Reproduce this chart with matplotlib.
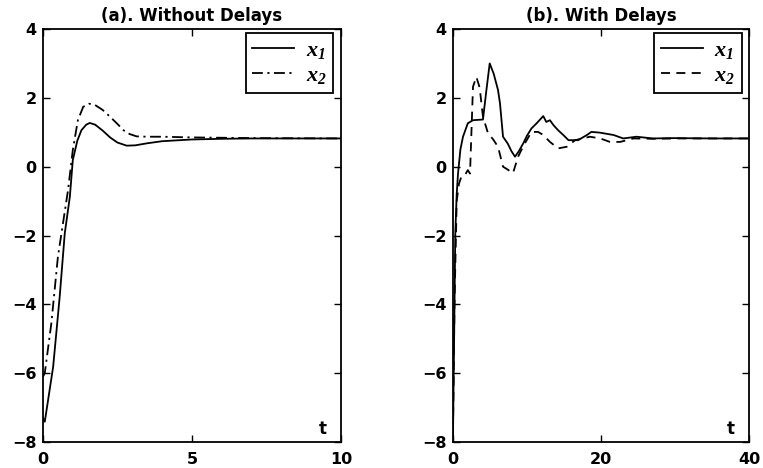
import matplotlib
matplotlib.use("Agg")
import matplotlib.pyplot as plt

# ---- (a) response without delays ----
t_a_x1 = [0.0, 0.06, 0.34, 0.56, 0.73, 0.9, 1.0, 1.15, 1.29, 1.45, 1.57, 1.75, 2.0, 2.25, 2.5,
          2.81, 3.1, 3.5, 4.0, 5.0, 6.0, 7.0, 8.0, 10.0]
x1_a = [-7.3, -7.41, -5.82, -3.78, -1.94, -0.88, 0.19, 0.75, 1.06, 1.22, 1.27, 1.22, 1.05, 0.85,
        0.7, 0.61, 0.62, 0.68, 0.74, 0.79, 0.81, 0.82, 0.82, 0.82]

t_a_x2 = [0.0, 0.06, 0.28, 0.5, 0.84, 1.0, 1.17, 1.35, 1.55, 1.75, 2.0, 2.25, 2.5, 2.7, 2.9,
          3.14, 3.5, 4.0, 5.0, 7.0, 10.0]
x2_a = [-6.1, -6.0, -4.55, -2.62, -0.68, 0.48, 1.35, 1.74, 1.83, 1.79, 1.65, 1.45, 1.24, 1.06,
        0.95, 0.88, 0.87, 0.87, 0.85, 0.83, 0.82]

# ---- (b) response with delays ----
t_b_x1 = [0.0, 0.15, 0.31, 0.5, 0.68, 1.0, 1.35, 2.0, 2.7, 4.05, 4.5, 4.96, 5.5, 6.08, 6.35,
          6.76, 7.4, 7.9, 8.38, 8.9, 9.5, 10.0, 10.6, 11.3, 12.2, 12.6, 13.1, 13.6, 14.2, 15.0,
          15.6, 16.9, 18.1, 18.7, 19.8, 21.7, 23.0, 24.8, 27.0, 30.0, 35.0, 40.0]
x1_b = [-7.8, -5.0, -1.94, -0.8, -0.2, 0.5, 0.87, 1.26, 1.35, 1.37, 2.2, 3.0, 2.7, 2.23, 1.84,
        0.87, 0.67, 0.45, 0.29, 0.45, 0.68, 0.9, 1.11, 1.26, 1.47, 1.3, 1.35, 1.2, 1.06, 0.9,
        0.77, 0.77, 0.92, 1.01, 0.99, 0.92, 0.82, 0.87, 0.82, 0.83, 0.82, 0.82]

t_b_x2 = [0.0, 0.2, 0.5, 0.8, 1.13, 1.6, 2.0, 2.3, 2.7, 3.15, 3.6, 4.05, 4.73, 5.4, 6.08, 6.76,
          7.5, 8.1, 8.8, 9.5, 10.1, 10.6, 11.5, 12.2, 13.1, 14.2, 15.4, 16.5, 18.5, 19.9, 21.2,
          22.6, 24.4, 27.0, 30.0, 35.0, 40.0]
x2_b = [-7.7, -4.0, -1.0, -0.5, -0.29, -0.25, -0.1, -0.2, 2.32, 2.61, 2.3, 1.45, 0.97, 0.8,
        0.58, 0.0, -0.1, -0.19, 0.29, 0.6, 0.82, 1.01, 1.01, 0.92, 0.72, 0.53, 0.58, 0.77, 0.87,
        0.82, 0.72, 0.72, 0.82, 0.81, 0.82, 0.82, 0.82]

titles = ["(a). Without Delays", "(b). With Delays"]
x_ticks = [[0, 5, 10], [0, 20, 40]]
y_ticks = [-8, -6, -4, -2, 0, 2, 4]
legend_labels = [r"$x_1$", r"$x_2$"]

plt.rcParams["font.family"] = ["DejaVu Sans"]
plt.rcParams["font.weight"] = "bold"
plt.rcParams["mathtext.fontset"] = "custom"
plt.rcParams["mathtext.it"] = "Liberation Serif:italic:bold"
plt.rcParams["mathtext.rm"] = "Liberation Serif:italic:bold"

fig = plt.figure(figsize=(7.63, 4.68), dpi=100)
ax_a = fig.add_axes([43 / 763, 1 - 442 / 468, 298 / 763, 413 / 468])
ax_b = fig.add_axes([453 / 763, 1 - 442 / 468, 296 / 763, 413 / 468])

lw = 1.3
ax_a.plot(t_a_x1, x1_a, color="black", lw=lw, label=legend_labels[0])
ax_a.plot(t_a_x2, x2_a, color="black", lw=lw, dashes=(6, 2.5, 1.2, 2.5), label=legend_labels[1])
ax_b.plot(t_b_x1, x1_b, color="black", lw=lw, label=legend_labels[0])
ax_b.plot(t_b_x2, x2_b, color="black", lw=lw, dashes=(5, 3.5), label=legend_labels[1])

legend_anchor = [(0.973, 0.990), (0.975, 0.990)]

for ax, title, xt, anchor in zip([ax_a, ax_b], titles, x_ticks, legend_anchor):
    ax.set_xlim(xt[0], xt[-1])
    ax.set_ylim(-8, 4)
    ax.set_xticks(xt)
    ax.set_yticks(y_ticks)
    ax.set_xticklabels([str(v) for v in xt])
    ax.set_yticklabels([("\u2212" + str(-v)) if v < 0 else str(v) for v in y_ticks])
    ax.tick_params(direction="in", length=5, width=1.0, top=True, right=True,
                   labelsize=11.5)
    ax.tick_params(axis="x", pad=7)
    ax.tick_params(axis="y", pad=4.5)
    for lab in ax.get_xticklabels() + ax.get_yticklabels():
        lab.set_fontweight("bold")
    for sp in ax.spines.values():
        sp.set_linewidth(1.3)
    ax.set_title(title, fontsize=12, fontweight="bold", pad=5.5)
    ax.text(0.938, 0.010, "t", transform=ax.transAxes, ha="center", va="bottom",
            fontsize=12, fontweight="bold")
    leg = ax.legend(loc="upper right", bbox_to_anchor=anchor, borderaxespad=0,
                    fontsize=16, frameon=True, fancybox=False, framealpha=1,
                    handlelength=1.9, handletextpad=0.5, borderpad=0.3,
                    labelspacing=0.2)
    leg.get_frame().set_edgecolor("black")
    leg.get_frame().set_linewidth(1.3)

fig.savefig("out.png", dpi=100)
